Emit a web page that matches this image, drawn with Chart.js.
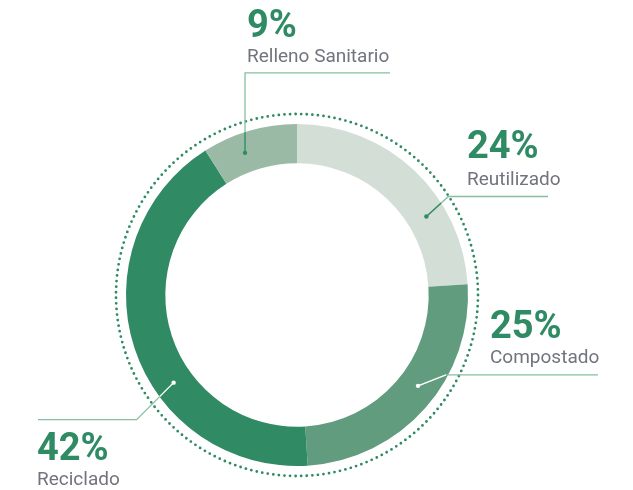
<!DOCTYPE html>
<html>
<head>
<meta charset="utf-8">
<script src="https://cdn.jsdelivr.net/npm/chart.js@4"></script>
<style>
  html, body { margin: 0; padding: 0; background: #fff; }
  #wrap { width: 633px; height: 490px; position: relative; }
</style>
</head>
<body>
<div id="wrap"><canvas id="wasteChart"></canvas></div>
<script>
// data
const categories = ['Reutilizado', 'Compostado', 'Reciclado', 'Relleno Sanitario'];
const percentages = [24, 25, 42, 9];
const sliceColors = ['#d3dfd6', '#629c7e', '#308b65', '#9bbaa6'];

// callout layout per slice: where along the arc the dot sits, elbow offset, line end, text
const callouts = [
    { frac: 0.68, elbow: [22, -20], endX: 548, textX: 467, pctDy: -38, nameDy: -11, inner: '#2e8b63' },
    { frac: 0.45, elbow: [28, -11], endX: 598, textX: 490, pctDy: -37, nameDy: -12, inner: '#ffffff' },
    { frac: 0.385, elbow: [-37, 37], endX: 38, textX: 37, pctDy: 40, nameDy: 65, inner: '#ffffff' },
    { frac: 0.38, elbow: [0, -80], endX: 390, textX: 247, pctDy: -36, nameDy: -11, inner: '#2e8b63' }
];

const calloutPlugin = {
    id: 'callouts',
    afterDatasetsDraw(chart) {
        const ctx = chart.ctx;
        const arcs = chart.getDatasetMeta(0).data;
        const cx = arcs[0].x, cy = arcs[0].y;
        const outer = arcs[0].outerRadius;

        // dotted ring
        ctx.save();
        ctx.strokeStyle = '#2e8b63';
        ctx.lineWidth = 2.8;
        ctx.lineCap = 'round';
        ctx.setLineDash([0, 5.6]);
        ctx.beginPath();
        ctx.arc(cx, cy, outer + 10, 0, Math.PI * 2);
        ctx.stroke();
        ctx.restore();

        arcs.forEach((arc, i) => {
            const c = callouts[i];
            const a = arc.startAngle + (arc.endAngle - arc.startAngle) * c.frac;
            const r = (arc.innerRadius + arc.outerRadius) / 2;
            const dx = cx + Math.cos(a) * r;
            const dy = cy + Math.sin(a) * r;
            const ex = dx + c.elbow[0];
            const ey = dy + c.elbow[1];

            ctx.save();
            // outer part of leader
            ctx.strokeStyle = '#86bea0';
            ctx.lineWidth = 1.3;
            ctx.beginPath();
            ctx.moveTo(dx, dy);
            ctx.lineTo(ex, ey);
            ctx.lineTo(c.endX, ey);
            ctx.stroke();

            // inside the ring the leader takes the contrast colour
            ctx.save();
            ctx.beginPath();
            ctx.arc(cx, cy, arc.outerRadius, 0, Math.PI * 2);
            ctx.clip();
            ctx.strokeStyle = c.inner;
            ctx.beginPath();
            ctx.moveTo(dx, dy);
            ctx.lineTo(ex, ey);
            ctx.stroke();
            ctx.restore();

            ctx.fillStyle = c.inner;
            ctx.beginPath();
            ctx.arc(dx, dy, 2.2, 0, Math.PI * 2);
            ctx.fill();

            ctx.textAlign = 'left';
            ctx.textBaseline = 'alphabetic';
            ctx.fillStyle = '#2e8b63';
            ctx.font = 'bold 38px Roboto';
            ctx.fillText(percentages[i] + '%', c.textX, ey + c.pctDy);
            ctx.fillStyle = '#72747d';
            ctx.font = '19px Roboto';
            ctx.fillText(categories[i], c.textX, ey + c.nameDy);
            ctx.restore();
        });
    }
};

new Chart(document.getElementById('wasteChart'), {
    type: 'doughnut',
    data: {
        labels: categories,
        datasets: [{
            data: percentages,
            backgroundColor: sliceColors,
            borderWidth: 0
        }]
    },
    options: {
        responsive: true,
        maintainAspectRatio: false,
        animation: false,
        cutout: '77%',
        layout: { padding: { left: 126, top: 124, right: 165, bottom: 24 } },
        plugins: {
            legend: { display: false },
            tooltip: { enabled: false }
        }
    },
    plugins: [calloutPlugin]
});
</script>
</body>
</html>
